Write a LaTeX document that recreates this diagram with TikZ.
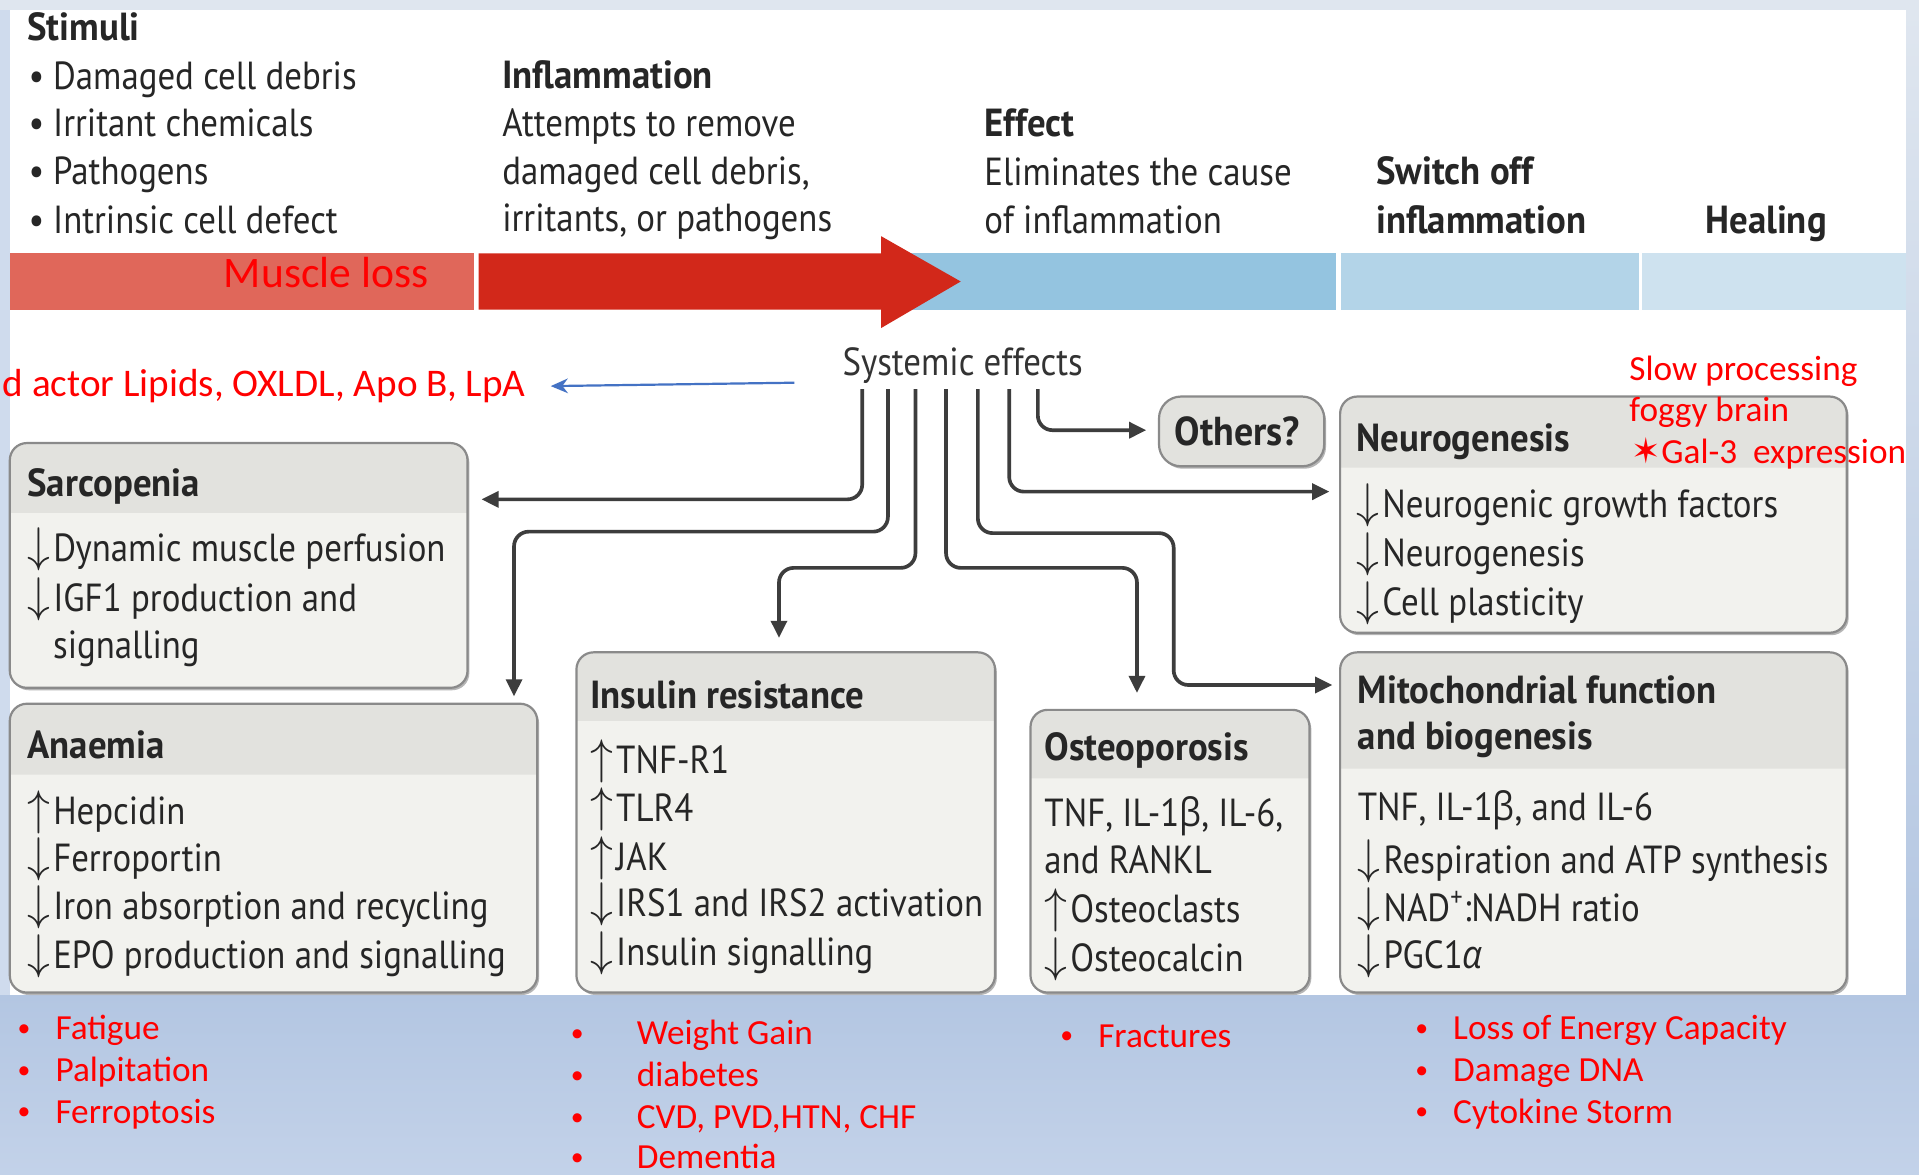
\documentclass[tikz,border=0pt]{standalone}
\usepackage{fontspec}
\usepackage{graphicx}
\setmainfont{PT Sans}[FakeStretch=0.89]
\newfontfamily\hdfont{PT Sans}[FakeStretch=0.94]
\newfontfamily\redfont{Carlito}
\newfontfamily\grk{Open Sans}[FakeStretch=0.89]
\newfontfamily\djv{DejaVu Sans}
\usetikzlibrary{arrows.meta}
\definecolor{frame}{HTML}{DFE6EF}
\definecolor{sidecol}{HTML}{CFDBED}
\definecolor{bandtop}{HTML}{B3C6E2}
\definecolor{bandbot}{HTML}{C3D2E9}
\definecolor{txt}{HTML}{262626}
\definecolor{conncol}{HTML}{3D3D3D}
\definecolor{palered}{HTML}{E0675A}
\definecolor{strongred}{HTML}{D2281A}
\definecolor{blueA}{HTML}{94C4E0}
\definecolor{blueB}{HTML}{B3D4E8}
\definecolor{blueC}{HTML}{CEE2EF}
\definecolor{hdrcol}{HTML}{E2E2DE}
\definecolor{bodycol}{HTML}{F2F2EE}
\definecolor{boxedge}{HTML}{8A8A8A}
\definecolor{shadowcol}{HTML}{B5B5B5}
\definecolor{linkblue}{HTML}{4472C4}
\definecolor{alert}{HTML}{FF0000}
\newcommand\dn{\makebox[0.66em][l]{\smash{\scalebox{1.08}[1.15]{$\downarrow$}}}}
\newcommand\up{\makebox[0.66em][l]{\smash{\scalebox{1.08}[1.15]{$\uparrow$}}}}
\newcommand\bet{\smash{\grk β}}
\newcommand\panel[6]{%
  \fill[shadowcol, rounded corners=7pt] ({#2+1.5},{#3+2}) rectangle ({#4+1.5},{#5+2});
  \fill[bodycol, rounded corners=7pt] (#2,#3) rectangle (#4,#5);
  \fill[hdrcol] (#2,#6) {[rounded corners=7pt] -- (#2,#3) -- (#4,#3)} -- (#4,#6) -- cycle;
  \draw[boxedge, line width=0.9pt, rounded corners=7pt] (#2,#3) rectangle (#4,#5);
  \node[inner sep=0pt, minimum width={(#4-#2)*0.5pt}, minimum height={(#5-#3)*0.5pt}] (#1) at ({(#2+#4)/2},{(#3+#5)/2}) {};
}
\tikzset{
  tx/.style={anchor=base west, inner sep=0pt, text=txt, font=\fontsize{16}{18}\selectfont},
  hd/.style={anchor=base west, inner sep=0pt, text=txt, font=\hdfont\bfseries\fontsize{16}{18}\selectfont},
  rd/.style={anchor=base west, inner sep=0pt, text=alert, font=\redfont\fontsize{14.4}{17}\selectfont},
  rdb/.style={anchor=base west, inner sep=0pt, text=alert, font=\redfont\fontsize{10.5}{17}\selectfont},
  conn/.style={draw=conncol, line width=1.5pt, rounded corners=6pt, -{Triangle[length=7pt,width=6.5pt]}},
}
\begin{document}
\begin{tikzpicture}[x=0.5pt,y=-0.5pt]
\useasboundingbox (0,0) rectangle (1568,960);
% background
\fill[frame] (0,0) rectangle (1568,960);
\fill[sidecol] (0,8) rectangle (8,813);
\shade[top color=frame, bottom color=bandtop] (1557,8) rectangle (1568,813);
\shade[top color=bandtop, bottom color=bandbot] (0,813) rectangle (1568,960);
\fill[white] (8,8) rectangle (1557,813);
% timeline bar
\fill[palered] (8,207) rectangle (387,253);
\fill[blueA] (720,207) rectangle (1092,253);
\fill[blueB] (1096,207) rectangle (1339,253);
\fill[blueC] (1342,207) rectangle (1557,253);
\fill[strongred] (391,207) -- (720,207) -- (720,193) -- (785,230) -- (720,268) -- (720,253) -- (391,253) -- cycle;
\node[anchor=base west, inner sep=0pt, text=alert, font=\redfont\fontsize{17.8}{20}\selectfont] (muscle) at (182.6,234.8) {Muscle loss};
% top texts
\node[tx] (b1) at (23,73.5) {•};
\node[hd] (stim) at (22,32.7) {Stimuli};
\node[tx] (st1) at (43,73.5) {Damaged cell debris};
\node[tx] (b2) at (23,111.7) {•};
\node[tx] (st2) at (43,111.7) {Irritant chemicals};
\node[tx] (b3) at (23,151) {•};
\node[tx] (st3) at (43,151) {Pathogens};
\node[tx] (b4) at (23,190.6) {•};
\node[tx] (st4) at (43,190.6) {Intrinsic cell defect};
\node[hd] (infl) at (410,72.2) {Inflammation};
\node[tx] (in1) at (410,111.7) {Attempts to remove};
\node[tx] (in2) at (410,150.5) {damaged cell debris,};
\node[tx] (in3) at (410,189.5) {irritants, or pathogens};
\node[hd] (eff) at (804,111.7) {Effect};
\node[tx] (ef1) at (804,151.5) {Eliminates the cause};
\node[tx] (ef2) at (804,190.6) {of inflammation};
\node[hd] (sw1) at (1124,151) {Switch off};
\node[hd] (sw2) at (1124,190.6) {inflammation};
\node[hd] (heal) at (1393,190.6) {Healing};
% systemic effects
\node[tx, text=black!80] (sys) at (688,306.4) {Systemic effects};
\node[anchor=base east, inner sep=0pt, text=alert, font=\redfont\fontsize{16}{18}\selectfont] (lipids) at (430,324) {d actor Lipids, OXLDL, Apo B, LpA};
\coordinate (bl) at (649,312.7);
\draw[linkblue, line width=0.9pt, -{Stealth[length=7pt,width=6pt]}] (bl) -- ([xshift=10pt]lipids.east);
% boxes
\panel{sarc}{8}{362}{382}{562}{419}
\panel{anae}{8}{575}{439}{811}{633}
\panel{insu}{471}{533}{813}{811}{589}
\panel{oste}{842}{580}{1070}{811}{636}
\panel{mito}{1095}{533}{1509}{811}{628}
\panel{neur}{1095}{324}{1509}{517}{382}
\fill[shadowcol, rounded corners=9pt] (948.5,326) rectangle (1083.5,383);
\fill[hdrcol, rounded corners=9pt] (947,324) rectangle (1082,381);
\draw[boxedge, line width=0.9pt, rounded corners=9pt] (947,324) rectangle (1082,381);
\node[inner sep=0pt, minimum width=67.5pt, minimum height=28.5pt] (oth) at (1014.5,352.5) {};
\node[hd, anchor=base, font=\hdfont\bfseries\fontsize{16.5}{18}\selectfont] (othtxt) at (1011,363.6) {Others?};
% red notes right
\node[rd] (slow) at (1331,310.5) {Slow processing};
\node[rd] (fog) at (1331,344.5) {foggy brain};
\node[rd] (gal) at (1333,378.4) {{\djv ✶}Gal-3\ \ expression};
% box texts
\node[hd] (sarcT) at (22,405.8) {Sarcopenia};
\node[tx] (sa1) at (22,459) {\dn Dynamic muscle perfusion};
\node[tx] (sa2) at (22,499.8) {\dn IGF1 production and};
\node[tx] (sa3) at (43,537.8) {signalling};
\node[hd] (anaeT) at (22,619.5) {Anaemia};
\node[tx] (an1) at (22,674) {\up Hepcidin};
\node[tx] (an2) at (22,712) {\dn Ferroportin};
\node[tx] (an3) at (22,751.7) {\dn Iron absorption and recycling};
\node[tx] (an4) at (22,791) {\dn EPO production and signalling};
\node[hd] (insuT) at (482,578.6) {Insulin resistance};
\node[tx] (is1) at (482,631.8) {\up TNF-R1};
\node[tx] (is2) at (482,671) {\up TLR4};
\node[tx] (is3) at (482,711) {\up JAK};
\node[tx] (is4) at (482,749) {\dn IRS1 and IRS2 activation};
\node[tx] (is5) at (482,788.5) {\dn Insulin signalling};
\node[hd] (osteT) at (853,621) {Osteoporosis};
\node[tx] (os1) at (853,675.4) {TNF, IL-1\bet, IL-6,};
\node[tx] (os2) at (853,713.5) {and RANKL};
\node[tx] (os3) at (853,754) {\up Osteoclasts};
\node[tx] (os4) at (853,794) {\dn Osteocalcin};
\node[hd] (mitoT1) at (1109,574.6) {Mitochondrial function};
\node[hd] (mitoT2) at (1109,612.8) {and biogenesis};
\node[tx] (mi1) at (1109,670) {TNF, IL-1\bet, and IL-6};
\node[tx] (mi2) at (1109,713.5) {\dn Respiration and ATP synthesis};
\node[tx] (mi3) at (1109,753) {\dn NAD\textsuperscript{+}:NADH ratio};
\node[tx] (mi4) at (1109,791) {\dn PGC1{\grk\itshape α}};
\node[hd] (neurT) at (1108,369) {Neurogenesis};
\node[tx] (ne1) at (1108,423) {\dn Neurogenic growth factors};
\node[tx] (ne2) at (1108,463) {\dn Neurogenesis};
\node[tx] (ne3) at (1108,502.5) {\dn Cell plasticity};
% connectors
\coordinate (se1) at (704.5,318);
\coordinate (se2) at (725.5,318);
\coordinate (se3) at (748,318);
\coordinate (se4) at (773,318);
\coordinate (se5) at (799,318);
\coordinate (se6) at (824.6,318);
\coordinate (se7) at (848,318);
\draw[conn, shorten >=5.5pt] (se1) |- (sarc.east |- 0,408);
\draw[conn, shorten >=2.8pt] (se2) |- (420,434.4) -- (anae.north -| 420,0);
\draw[conn, shorten >=5.7pt] (se3) |- (636.5,464) -- (insu.north -| 636.5,0);
\draw[conn, shorten >=6.7pt] (se4) |- (929,464) -- (oste.north -| 929,0);
\draw[conn, shorten >=3pt] (se5) |- (959,435.6) |- (mito.west |- 0,559.7);
\draw[conn, shorten >=4.2pt] (se6) |- (neur.west |- 0,401.7);
\draw[conn, shorten >=5pt] (se7) |- (oth.west |- 0,351.5);
% bottom lists
\node[rdb] (c1b1) at (14,847) {•};
\node[rd] (c1t1) at (45,849.7) {Fatigue};
\node[rdb] (c1b2) at (14,881) {•};
\node[rd] (c1t2) at (45,883.8) {Palpitation};
\node[rdb] (c1b3) at (14,915) {•};
\node[rd] (c1t3) at (45,917.8) {Ferroptosis};
\node[rdb] (c2b1) at (466,851) {•};
\node[rd] (c2t1) at (520,853.8) {Weight Gain};
\node[rdb] (c2b2) at (466,885) {•};
\node[rd] (c2t2) at (520,888) {diabetes};
\node[rdb] (c2b3) at (466,920) {•};
\node[rd] (c2t3) at (520,922) {CVD, PVD,HTN, CHF};
\node[rdb] (c2b4) at (466,952) {•};
\node[rd] (c2t4) at (520,955) {Dementia};
\node[rdb] (c3b1) at (866,853) {•};
\node[rd] (c3t1) at (897,856) {Fractures};
\node[rdb] (c4b1) at (1156,847) {•};
\node[rd] (c4t1) at (1187,849.7) {Loss of Energy Capacity};
\node[rdb] (c4b2) at (1156,881) {•};
\node[rd] (c4t2) at (1187,883.8) {Damage DNA};
\node[rdb] (c4b3) at (1156,915) {•};
\node[rd] (c4t3) at (1187,917.8) {Cytokine Storm};
\end{tikzpicture}
\end{document}
